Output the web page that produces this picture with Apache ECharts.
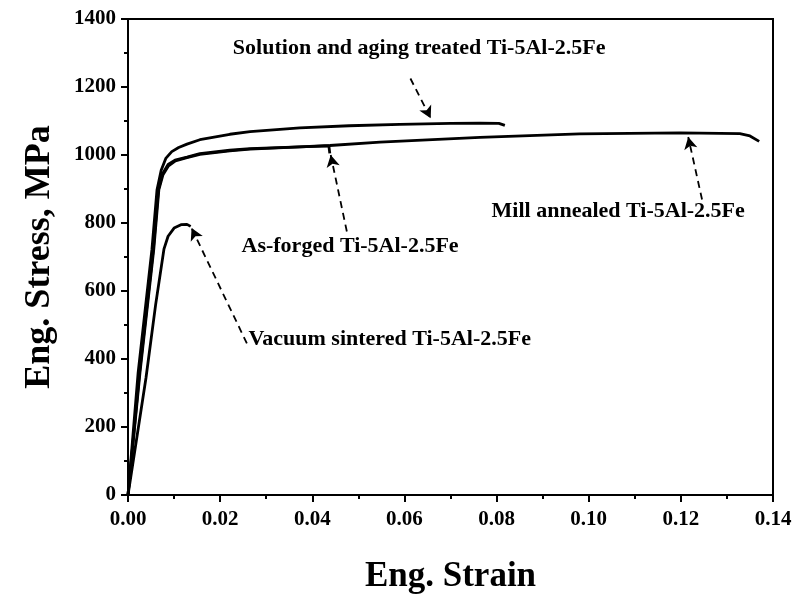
<!DOCTYPE html>
<html>
<head>
<meta charset="utf-8">
<script src="https://cdn.jsdelivr.net/npm/echarts@6/dist/echarts.min.js"></script>
<style>
html,body{margin:0;padding:0;background:#fff;}
#chart{width:798px;height:599px;}
</style>
</head>
<body>
<div id="chart"></div>
<script>
// Stress-strain curves: [strain, stress MPa]
const solutionAging = [[0,0],[0.0022,360],[0.0052,723],[0.0063,898],[0.0072,955],[0.0082,990],[0.0095,1010],[0.0110,1022],[0.0128,1032],[0.0156,1045],[0.0221,1061],[0.0265,1069],[0.0373,1080],[0.048,1086],[0.059,1090],[0.070,1093],[0.0764,1094],[0.0805,1093],[0.0818,1087]];
const asForged = [[0,0],[0.0025,360],[0.0055,723],[0.0066,898],[0.0075,945],[0.0087,972],[0.0102,985],[0.0128,994],[0.0156,1004],[0.0221,1014],[0.0265,1019],[0.0373,1024],[0.0436,1027],[0.0438,1005]];
const millAnnealed = [[0,0],[0.0026,360],[0.0056,723],[0.0067,898],[0.0076,942],[0.0088,968],[0.0103,983],[0.0128,992],[0.0156,1002],[0.0221,1012],[0.0265,1017],[0.0373,1024],[0.0438,1028],[0.0547,1038],[0.0764,1052],[0.098,1062],[0.1198,1065],[0.1328,1063],[0.1350,1056],[0.1370,1040]];
const vacuumSintered = [[0,0],[0.0039,344],[0.0060,560],[0.0078,723],[0.0087,761],[0.0100,785],[0.0115,795],[0.0128,796],[0.0136,790]];

// Annotations
const labelNames = ['Solution and aging treated Ti-5Al-2.5Fe','Mill annealed Ti-5Al-2.5Fe','As-forged Ti-5Al-2.5Fe','Vacuum sintered Ti-5Al-2.5Fe'];
const labelPos = [[0.0632,1315],[0.1064,834],[0.0482,732],[0.0568,458]];
const arrowFrom = [[0.0613,1225],[0.1246,869],[0.0475,775],[0.0258,446]];
const arrowTo = [[0.0657,1108],[0.1216,1053],[0.0440,1000],[0.0138,785]];

const xTicks = {min:0, max:0.14, interval:0.02};
const yTicks = {min:0, max:1400, interval:200};

const FONT = "'Liberation Serif','Times New Roman',serif";
const chart = echarts.init(document.getElementById('chart'), null, {renderer:'canvas'});

function curve(name, data){
  return {name:name, type:'line', data:data, showSymbol:false, symbol:'none',
    lineStyle:{color:'#000', width:2.8}, z:3, animation:false};
}

const option = {
  animation:false,
  backgroundColor:'#fff',
  grid:{left:128, right:25, top:19, bottom:101, show:true, borderColor:'#000', borderWidth:2, containLabel:false},
  xAxis:{type:'value', min:xTicks.min, max:xTicks.max, interval:xTicks.interval,
    name:'Eng. Strain', nameLocation:'middle', nameGap:64,
    nameTextStyle:{fontFamily:FONT, fontWeight:'bold', fontSize:35, color:'#000'},
    axisLine:{show:true, lineStyle:{color:'#000', width:2}},
    axisTick:{show:true, inside:false, length:7, lineStyle:{color:'#000', width:2}},
    minorTick:{show:true, splitNumber:2, length:4, lineStyle:{color:'#000', width:2}},
    splitLine:{show:false},
    axisLabel:{fontFamily:FONT, fontWeight:'bold', fontSize:21, color:'#000', margin:14,
      formatter:function(v){return v.toFixed(2);}}
  },
  yAxis:{type:'value', min:yTicks.min, max:yTicks.max, interval:yTicks.interval,
    name:'Eng. Stress, MPa', nameLocation:'middle', nameGap:70, nameRotate:90,
    nameTextStyle:{fontFamily:FONT, fontWeight:'bold', fontSize:36, color:'#000'},
    axisLine:{show:true, lineStyle:{color:'#000', width:2}},
    axisTick:{show:true, inside:false, length:7, lineStyle:{color:'#000', width:2}},
    minorTick:{show:true, splitNumber:2, length:4, lineStyle:{color:'#000', width:2}},
    splitLine:{show:false},
    axisLabel:{fontFamily:FONT, fontWeight:'bold', fontSize:21, color:'#000', margin:12,
      formatter:function(v){return String(v);}}
  },
  series:[
    curve('Solution and aging treated', solutionAging),
    curve('As-forged', asForged),
    curve('Mill annealed', millAnnealed),
    curve('Vacuum sintered', vacuumSintered),
    {name:'annotations', type:'scatter', symbolSize:0, z:5, animation:false,
      itemStyle:{color:'#000', opacity:1},
      data: labelNames.map(function(n,i){return {name:n, value:labelPos[i]};}),
      label:{show:true, position:'inside', formatter:function(p){return p.name;},
        fontFamily:FONT, fontWeight:'bold', fontSize:22, color:'#000', opacity:1},
      emphasis:{disabled:true},
      markLine:{silent:true, animation:false, symbol:['none','arrow'], symbolSize:[10,12],
        lineStyle:{color:'#000', width:1.8, type:[7,5], opacity:1},
        label:{show:false},
        data: arrowFrom.map(function(f,i){return [{coord:f},{coord:arrowTo[i]}];})
      }
    }
  ]
};
chart.setOption(option);
</script>
</body>
</html>
